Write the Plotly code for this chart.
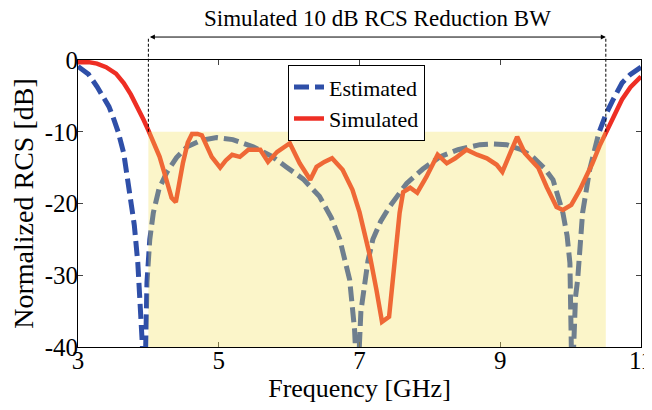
import plotly.graph_objects as go

# Estimated RCS (dB)
est_x = [3.0, 3.15, 3.27, 3.35, 3.44, 3.5, 3.57, 3.65, 3.74, 3.8, 3.85, 3.9, 3.95,
         3.98, 4.02, 4.07, 4.15, 4.26, 4.4, 4.55, 4.75, 4.97, 5.2, 5.49, 5.75, 5.96,
         6.2, 6.43, 6.6, 6.72, 6.86, 6.93, 6.97, 7.02, 7.05, 7.12, 7.19, 7.3, 7.43,
         7.67, 7.9, 8.14, 8.4, 8.71, 8.9, 9.09, 9.3, 9.46, 9.62, 9.75, 9.89, 9.95,
         9.99, 10.02, 10.07, 10.1, 10.17, 10.27, 10.4, 10.5, 10.6, 10.73, 10.85, 11.0]
est_y = [-0.9, -2.0, -3.7, -5.0, -6.5, -8.0, -10.0, -13.0, -19.0, -23.0, -28.3, -35.0, -46.0,
         -31.0, -25.0, -21.3, -18.0, -15.7, -13.6, -12.1, -11.2, -10.8, -11.1, -12.1, -13.4, -14.9,
         -16.6, -19.0, -22.0, -25.0, -30.6, -37.6, -46.0, -35.0, -33.0, -28.0, -25.0, -22.5, -20.4,
         -17.2, -15.2, -13.5, -12.5, -11.8, -11.7, -11.8, -12.5, -13.5, -15.0, -16.7, -21.3, -24.5,
         -28.3, -46.0, -33.0, -30.6, -21.3, -15.3, -10.2, -7.6, -5.6, -3.2, -2.0, -1.0]

# Simulated RCS (dB)
sim_x = [3.0, 3.15, 3.27, 3.4, 3.54, 3.65, 3.75, 3.85, 3.93, 4.0, 4.08, 4.16, 4.22, 4.28,
         4.33, 4.39, 4.44, 4.49, 4.56, 4.62, 4.7, 4.76, 4.83, 4.9, 5.02, 5.1, 5.19, 5.3,
         5.42, 5.59, 5.7, 5.83, 6.01, 6.15, 6.3, 6.39, 6.5, 6.61, 6.76, 6.9, 7.0, 7.1,
         7.15, 7.24, 7.32, 7.42, 7.5, 7.57, 7.62, 7.72, 7.82, 7.95, 8.11, 8.24, 8.36,
         8.52, 8.67, 8.81, 8.95, 9.03, 9.14, 9.24, 9.35, 9.45, 9.54, 9.66, 9.8, 9.89,
         10.01, 10.13, 10.22, 10.31, 10.41, 10.51, 10.62, 10.73, 10.85, 11.0]
sim_y = [-0.3, -0.3, -0.5, -1.0, -1.9, -3.2, -4.8, -6.6, -8.3, -9.8, -11.5, -13.5, -15.5, -17.7,
         -19.2, -19.8, -17.0, -14.4, -11.5, -10.3, -10.3, -10.5, -12.0, -13.5, -15.0, -14.0, -13.2, -13.5,
         -12.5, -12.5, -14.2, -12.8, -11.6, -14.4, -16.7, -14.9, -14.2, -13.7, -15.3, -18.1, -21.2, -25.0,
         -27.4, -32.0, -36.5, -35.8, -28.3, -21.3, -18.4, -17.8, -18.5, -16.3, -13.2, -14.4, -13.7,
         -12.5, -13.2, -13.7, -14.6, -15.6, -13.0, -10.7, -13.0, -14.0, -15.0, -17.7, -20.5, -20.9,
         -20.2, -18.1, -16.3, -14.4, -12.0, -9.9, -7.8, -5.5, -3.8, -2.3]

x_ticks = [3, 5, 7, 9, 11]
y_ticks = [0, -10, -20, -30, -40]
y_ticktext = ["0", "-10", "-20", "-30", "-40"]

bw_start, bw_end = 4.0, 10.5
threshold = -10

FONT = "Liberation Serif"

fig = go.Figure()
fig.add_trace(go.Scatter(x=est_x, y=est_y, mode="lines", name="Estimated",
                         line=dict(color="#2F4FA8", width=5, dash="15px,6px")))
fig.add_trace(go.Scatter(x=sim_x, y=sim_y, mode="lines", name="Simulated",
                         line=dict(color="#EE2E24", width=4.5)))

x0, x1 = 3, 11
y0, y1 = -40, 0
def px(v):
    return (v - x0) / (x1 - x0)
def py(v):
    return (v - y0) / (y1 - y0)

arrow_y = 1.08

fig.add_shape(type="rect", xref="x", yref="y", x0=bw_start, x1=bw_end, y0=-40, y1=threshold,
              fillcolor="rgba(244,225,90,0.33)", line=dict(width=0), layer="above")
for xv in (bw_start, bw_end):
    fig.add_shape(type="line", xref="paper", yref="paper", x0=px(xv), x1=px(xv),
                  y0=py(threshold), y1=arrow_y, line=dict(color="black", width=1, dash="3px,2px"))

fig.add_annotation(x=bw_end, y=arrow_y, ax=bw_start, ay=0, xref="x", yref="paper",
                   axref="x", ayref="pixel", text="", showarrow=True,
                   arrowhead=2, arrowside="end+start", arrowsize=1, arrowwidth=1,
                   arrowcolor="black", standoff=0, startstandoff=0)
fig.add_annotation(x=(px(bw_start) + px(bw_end)) / 2, y=1.146, xref="paper", yref="paper",
                   text="Simulated 10 dB RCS Reduction BW", showarrow=False,
                   font=dict(family=FONT, size=23, color="black"), yanchor="middle")

# page body has an 8px margin, so the figure is sized to fit the remaining window
fig.update_layout(
    width=644, height=402,
    margin=dict(l=70, r=11, t=52, b=63),
    plot_bgcolor="white", paper_bgcolor="white",
    font=dict(family=FONT, size=25, color="black"),
    legend=dict(x=0.373, y=0.982, xanchor="left", yanchor="top",
                bordercolor="black", borderwidth=1, bgcolor="white",
                font=dict(family=FONT, size=22), tracegroupgap=0),
    xaxis=dict(range=[x0, x1], tickvals=x_ticks, ticks="inside", ticklen=5,
               showline=True, linecolor="black", linewidth=1, mirror="ticks",
               showgrid=False, zeroline=False, automargin=False, ticklabelstandoff=-9,
               ticklabeloverflow="allow",
               title=dict(text="Frequency [GHz]", standoff=0, font=dict(size=26))),
    yaxis=dict(range=[y0, y1], tickvals=y_ticks, ticktext=y_ticktext, ticks="inside", ticklen=5,
               showline=True, linecolor="black", linewidth=1, mirror="ticks",
               showgrid=False, zeroline=False, automargin=False, ticklabelstandoff=-6,
               ticklabeloverflow="allow",
               title=dict(text="Normalized RCS [dB]", standoff=2, font=dict(size=28))),
)

fig.write_html("out.html")
